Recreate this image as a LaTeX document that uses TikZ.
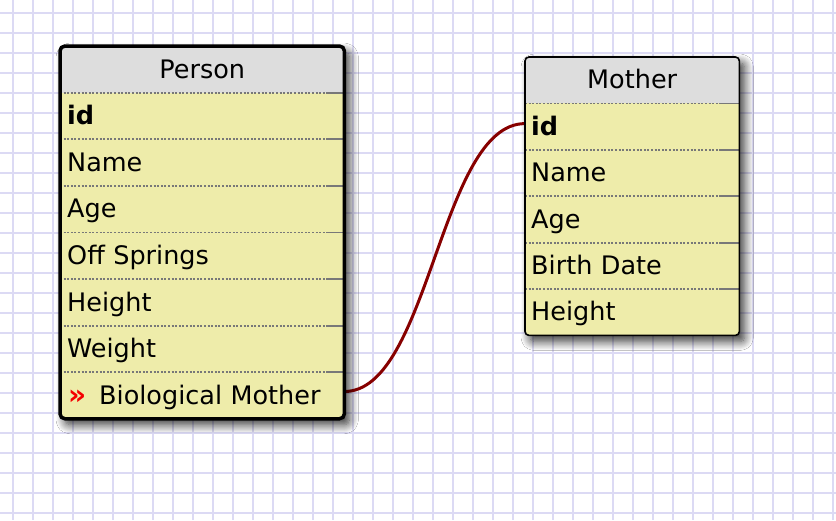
\documentclass[tikz,border=0pt]{standalone}
\usepackage{fontspec}
\setmainfont{DejaVu Sans}
\usetikzlibrary{calc,shadows.blur}
\pgfdeclarelayer{back}
\pgfsetlayers{back,main}
\definecolor{gridc}{RGB}{220,218,244}
\definecolor{rowy}{RGB}{238,236,170}
\definecolor{headg}{RGB}{221,221,221}
\definecolor{sepg}{RGB}{120,120,120}
\definecolor{connc}{RGB}{135,0,0}
\definecolor{mred}{RGB}{245,0,0}
\tikzset{
 tfont/.style={font=\fontsize{25.5}{30}\selectfont},
 hdr/.style={tfont, anchor=north west, inner sep=0pt, text height=17.5pt, text depth=0pt},
 rowc/.style={tfont, anchor=north west, inner ysep=0pt, text height=17.5pt, text depth=0pt, align=left},
 prow/.style={rowc, minimum height=46.2pt, text width=270pt, inner xsep=7pt},
 mrow/.style={rowc, minimum height=46pt, text width=202pt, inner xsep=6pt},
 sepdot/.style={draw=sepg, line width=1.8pt, dash pattern=on 2pt off 1.6pt},
 sepsol/.style={draw=sepg, line width=1.8pt},
 gridl/.style={draw=gridc, line width=1.8pt},
 conn/.style={draw=connc, line width=3pt},
 bshadow/.style={blur shadow={shadow xshift=5pt, shadow yshift=-6pt, shadow blur radius=9pt, shadow blur steps=12, shadow opacity=80}},
}
\begin{document}
\begin{tikzpicture}[x=1pt,y=-1pt]
\useasboundingbox (0,0) rectangle (836,520);
\begin{pgfonlayer}{back}
\fill[white] (0,0) rectangle (836,520);
\foreach \x in {13.3,33.3,...,834} \draw[gridl] (\x,0) -- (\x,520);
\foreach \y in {13,33,...,514} \draw[gridl] (0,\y) -- (836,\y);
\end{pgfonlayer}

% Person table
\node[hdr, minimum width=284pt, minimum height=46.2pt] (phead) at (60,46) {Person};
\node[prow] (pid) at (phead.south west) {\textbf{id}};
\node[prow] (pname) at (pid.south west) {Name};
\node[prow] (page) at (pname.south west) {Age};
\node[prow] (poff) at (page.south west) {Off Springs};
\node[prow] (pheight) at (poff.south west) {Height};
\node[prow] (pweight) at (pheight.south west) {Weight};
\node[prow] (pbio) at (pweight.south west) {\makebox[32pt][l]{\hspace{1pt}\textcolor{mred}{\fontsize{28}{28}\selectfont\bfseries »}}Biological Mother};

% Mother table
\node[hdr, minimum width=214pt, minimum height=46pt] (mhead) at (525,57) {Mother};
\node[mrow] (mid) at (mhead.south west) {\textbf{id}};
\node[mrow] (mname) at (mid.south west) {Name};
\node[mrow] (mage) at (mname.south west) {Age};
\node[mrow] (mbirth) at (mage.south west) {Birth Date};
\node[mrow] (mheight) at (mbirth.south west) {Height};

\begin{pgfonlayer}{back}
\draw[conn] ($(pbio.east)+(0,4pt)$) .. controls ($(pbio.east)+(85pt,4pt)$) and ($(mid.west)+(-85pt,3pt)$) .. ($(mid.west)+(0,3pt)$);
\path[bshadow, fill=rowy, rounded corners=5pt] (phead.north west) rectangle (pbio.south east);
\begin{scope}
\clip[rounded corners=5pt] (phead.north west) rectangle (pbio.south east);
\fill[headg] (phead.north west) rectangle (phead.south east);
\end{scope}
\path[bshadow, fill=rowy, rounded corners=4pt] (mhead.north west) rectangle (mheight.south east);
\begin{scope}
\clip[rounded corners=4pt] (mhead.north west) rectangle (mheight.south east);
\fill[headg] (mhead.north west) rectangle (mhead.south east);
\end{scope}
\end{pgfonlayer}

\foreach \n in {phead,pid,pname,page,poff,pheight,pweight} {
  \draw[sepdot] (\n.south west) -- ($(\n.south east)+(-16pt,0)$);
  \draw[sepsol] ($(\n.south east)+(-16pt,0)$) -- (\n.south east);
}
\foreach \n in {mhead,mid,mname,mage,mbirth} {
  \draw[sepdot] (\n.south west) -- ($(\n.south east)+(-20pt,0)$);
  \draw[sepsol] ($(\n.south east)+(-20pt,0)$) -- (\n.south east);
}

\draw[line width=3.5pt, rounded corners=5pt] (phead.north west) rectangle (pbio.south east);
\draw[line width=1.6pt, rounded corners=4pt] (mhead.north west) rectangle (mheight.south east);
\end{tikzpicture}
\end{document}
